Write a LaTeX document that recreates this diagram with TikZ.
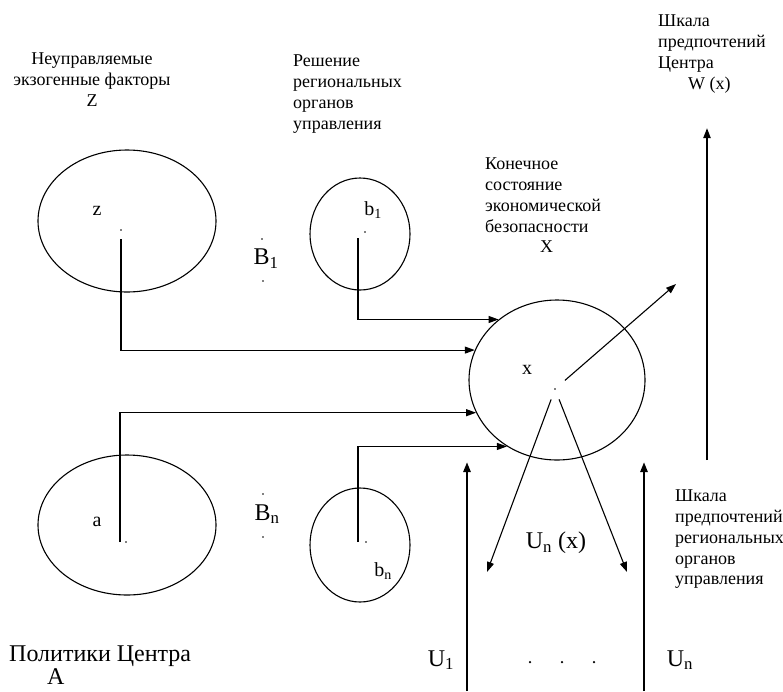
\documentclass[tikz,border=0pt]{standalone}
\usepackage{fontspec}
\setmainfont{Liberation Serif}
\usetikzlibrary{arrows.meta, positioning, shapes.geometric}

\begin{document}
\begin{tikzpicture}[
    x=1pt, y=-1pt,
    font=\fontsize{18}{20.7}\selectfont,
    >={Triangle[length=10pt, width=7pt]},
    region/.style={ellipse, draw, line width=1.1pt, inner sep=0pt},
    spot/.style={circle, fill, inner sep=0pt, minimum size=1.8pt},
    note/.style={inner sep=0pt, align=left},
    tag/.style={inner sep=0pt, font=\fontsize{20}{22}\selectfont},
    bigtag/.style={inner sep=0pt, font=\fontsize{24}{27}\selectfont},
    link/.style={->, line width=1.1pt, shorten <=8pt},
    pref/.style={->, line width=2.4pt}
]
\useasboundingbox (0,0) rectangle (783,691);

% regions
\node[region, minimum width=178pt, minimum height=142pt] (zc) at (127,221) {};
\node[region, minimum width=178pt, minimum height=140pt] (ac) at (127,525) {};
\node[region, minimum width=100pt, minimum height=112pt] (b1c) at (360,234) {};
\node[region, minimum width=100pt, minimum height=114pt] (bnc) at (360,545) {};
\node[region, minimum width=176pt, minimum height=160pt] (xc) at (557,380) {};

\node[spot] (zd) at (121,230) {};
\node[spot] (ad) at (126,542) {};
\node[spot] (b1d) at (365,232) {};
\node[spot] (bnd) at (366,542) {};
\node[spot] (xd) at (555,389) {};

\node[tag] (zl) at (97,211) {z};
\node[tag] (al) at (97,522) {a};
\node[tag] (b1l) at (373,210) {b\textsubscript{1}};
\node[tag] (bnl) at (383,571) {b\textsubscript{n}};
\node[tag] (xl) at (527,370) {x};

% B_1 ... B_n
\node[spot] (b1top) at (262,239) {};
\node[bigtag] (b1name) at (266,259) {B\textsubscript{1}};
\node[spot] (b1bot) at (263,281) {};
\node[spot] (bntop) at (263,494) {};
\node[bigtag] (bnname) at (267,514) {B\textsubscript{n}};
\node[spot] (bnbot) at (263,537) {};

% captions
\node[note, align=center, anchor=north] (zcap) at (92,53) {Неуправляемые\\экзогенные факторы\\Z};
\node[note, anchor=north west] (bcap) at (293,55) {Решение\\региональных\\органов\\управления};
\node[note, anchor=north west] (xcap) at (485,158) {Конечное\\состояние\\экономической\\безопасности\\\hspace*{55pt}X};
\node[note, anchor=north west] (wcap) at (658,15) {Шкала\\предпочтений\\Центра\\\hspace*{30pt}W (x)};
\node[note, anchor=north west] (ucap) at (675,490) {Шкала\\предпочтений\\региональных\\органов\\управления};
\node[bigtag, align=left, anchor=north west, font=\fontsize{24}{23}\selectfont] (acap) at (9,646) {Политики Центра\\\hspace*{38pt}A};
\node[bigtag] (unx) at (556,543) {U\textsubscript{n} (x)};

% connectors
\draw[link] (zd) |- (xc.160);
\draw[link, shorten <=0pt] ([xshift=-6pt]ad.center) |- (xc.202);
\draw[link, shorten <=6pt] ([xshift=-7pt]b1d.center) |- (xc.134);
\draw[link, shorten <=0pt] ([xshift=-8pt]bnd.center) |- (xc.233);

\coordinate (wend) at (676,284);
\coordinate (u1end) at (487,572);
\coordinate (unend) at (627,572);
\draw[link, shorten <=12pt] (xd) -- (wend);
\draw[link, shorten <=10pt] (xd) -- (u1end);
\draw[link, shorten <=10pt] (xd) -- (unend);

% preference scales
\coordinate (u1foot) at (467,691);
\coordinate (u1top) at (467,462);
\coordinate (unfoot) at (644,691);
\coordinate (untop) at (644,462);
\coordinate (wfoot) at (707,460);
\coordinate (wtop) at (707,128);
\draw[pref] (u1foot) -- (u1top);
\draw[pref] (unfoot) -- (untop);
\draw[pref, line width=2pt] (wfoot) -- (wtop);

\node[bigtag] (u1l) at (441,660) {U\textsubscript{1}};
\node[bigtag] (unl) at (680,660) {U\textsubscript{n}};
\node[spot, minimum size=2.5pt] (dot1) at (530,662) {};
\node[spot, minimum size=2.5pt] (dot2) at (562,662) {};
\node[spot, minimum size=2.5pt] (dot3) at (594,662) {};

\end{tikzpicture}
\end{document}
